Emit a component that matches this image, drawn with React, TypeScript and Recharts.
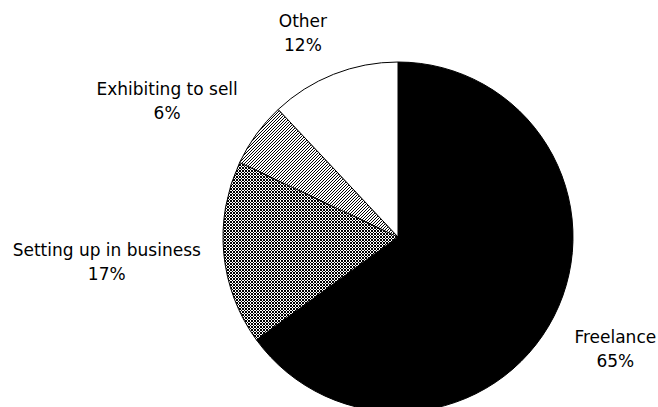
import React from "react";
import { PieChart, Pie, Cell } from "recharts";

const categories = ["Freelance", "Setting up in business", "Exhibiting to sell", "Other"];
const shares = [65, 17, 6, 12];
const fills = ["#000000", "url(#crossHatch)", "url(#diagHatch)", "#ffffff"];

const data = categories.map((name, i) => ({ name, value: shares[i] }));

const RAD = Math.PI / 180;
const FONT = "17px 'DejaVu Sans', sans-serif";

let ctx: CanvasRenderingContext2D | null = null;
function textWidth(s: string) {
  if (!ctx) ctx = document.createElement("canvas").getContext("2d");
  if (!ctx) return s.length * 8.3;
  ctx.font = FONT;
  return ctx.measureText(s).width;
}

const clamp = (v: number) => Math.max(-1, Math.min(1, v));

// anchor point just outside the slice, the label box hangs off it away from the pie
function renderLabel(props: any) {
  const { cx, cy, midAngle, outerRadius, name, value } = props;
  const ux = Math.cos(-midAngle * RAD);
  const uy = Math.sin(-midAngle * RAD);
  const line2 = `${value}%`;
  const hw = Math.max(textWidth(name), textWidth(line2)) / 2;
  const hh = 21;
  const px = cx + ux * (outerRadius + 23);
  const py = cy + uy * (outerRadius + 23);
  const x = px + hw * clamp(ux * 2.5);
  const y = py + hh * clamp(uy * 2.5);
  return (
    <text
      x={x}
      y={y}
      textAnchor="middle"
      fill="#000"
      style={{ fontFamily: "'DejaVu Sans', sans-serif", fontSize: 17 }}
    >
      <tspan x={x} dy={-5}>{name}</tspan>
      <tspan x={x} dy={24}>{line2}</tspan>
    </text>
  );
}

export default function App() {
  // fixed so the page never gets a scrollbar that would clip the right edge
  return (
    <div style={{ position: "fixed", top: 0, left: 0, width: 658, height: 407, background: "#fff" }}>
      <PieChart width={658} height={407} margin={{ top: 0, right: 0, bottom: 0, left: 0 }}>
        <defs>
          <pattern id="diagHatch" width="3" height="3" patternUnits="userSpaceOnUse">
            <rect width="3" height="3" fill="#fff" />
            <path d="M-1,1 L1,-1 M0,3 L3,0 M2,4 L4,2" stroke="#000" strokeWidth="1" />
          </pattern>
          <pattern id="crossHatch" width="3" height="3" patternUnits="userSpaceOnUse">
            <rect width="3" height="3" fill="#fff" />
            <path d="M-1,1 L1,-1 M0,3 L3,0 M2,4 L4,2 M-1,2 L1,4 M0,0 L3,3 M2,-1 L4,1" stroke="#000" strokeWidth="1" />
          </pattern>
        </defs>
        <Pie
          data={data}
          dataKey="value"
          nameKey="name"
          cx={398}
          cy={237}
          outerRadius={175}
          startAngle={90}
          endAngle={-270}
          stroke="#000"
          strokeWidth={1}
          label={renderLabel}
          labelLine={false}
          isAnimationActive={false}
        >
          {data.map((d, i) => (
            <Cell key={d.name} fill={fills[i]} />
          ))}
        </Pie>
      </PieChart>
    </div>
  );
}
